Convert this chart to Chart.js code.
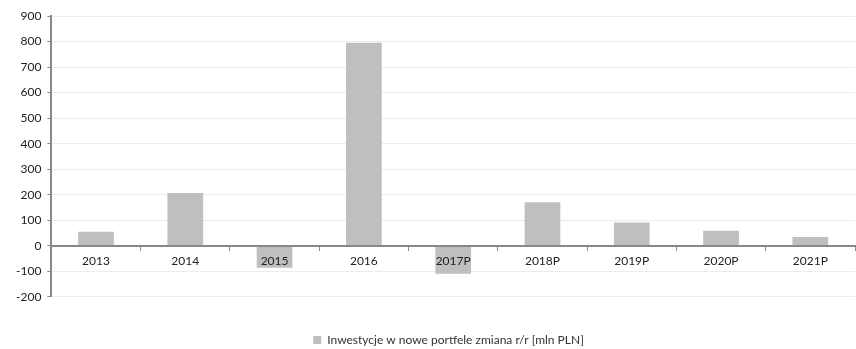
<!DOCTYPE html>
<html>
<head>
<meta charset="utf-8">
<script src="https://cdn.jsdelivr.net/npm/chart.js@4/dist/chart.umd.min.js"></script>
<style>
  html, body { margin: 0; padding: 0; background: #fff; }
  #wrap { width: 856px; height: 349px; }
</style>
</head>
<body>
<div id="wrap"><canvas id="chart"></canvas></div>
<script>
// Dane wykresu
const lata = ['2013', '2014', '2015', '2016', '2017P', '2018P', '2019P', '2020P', '2021P'];
const inwestycje = [55, 207, -86, 795, -110, 170, 91, 59, 34];
const nazwaSerii = 'Inwestycje w nowe portfele zmiana r/r [mln PLN]';
const osY = { min: -200, max: 900, krok: 100 };

const czcionka = "Lato, 'Open Sans', sans-serif";

// przesuniecie legendy troche w prawo, jak w oryginale
const przesunLegende = {
  id: 'przesunLegende',
  afterLayout(chart) {
    chart.legend.left += 16;
    chart.legend.right += 16;
  }
};

new Chart(document.getElementById('chart'), {
  type: 'bar',
  data: {
    labels: lata,
    datasets: [{
      label: nazwaSerii,
      data: inwestycje,
      backgroundColor: '#bfbfbf',
      borderWidth: 0,
      barPercentage: 0.8,
      categoryPercentage: 0.5
    }]
  },
  options: {
    responsive: true,
    maintainAspectRatio: false,
    animation: false,
    layout: { padding: { top: 16, right: 1, left: 10, bottom: -7 } },
    scales: {
      x: {
        position: { y: 0 },
        grid: {
          drawOnChartArea: false,
          drawTicks: true,
          tickLength: 4,
          offset: true,
          color: '#888',
          z: 1
        },
        border: { color: '#888', width: 2, z: 1 },
        ticks: {
          color: '#222',
          font: { family: czcionka, size: 12 },
          padding: 4,
          maxRotation: 0,
          z: 1
        }
      },
      y: {
        min: osY.min,
        max: osY.max,
        ticks: {
          stepSize: osY.krok,
          color: '#222',
          font: { family: czcionka, size: 12 },
          padding: 6
        },
        grid: {
          color: '#ececec',
          tickLength: 4,
          tickColor: '#888',
          drawTicks: true
        },
        border: { color: '#888', width: 2 }
      }
    },
    plugins: {
      legend: {
        position: 'bottom',
        title: { display: true, text: '', font: { size: 1 }, padding: { top: 32, bottom: 0 } },
        labels: {
          boxWidth: 8,
          boxHeight: 8,
          color: '#333',
          font: { family: czcionka, size: 12 },
          padding: 4
        }
      },
      tooltip: { enabled: false }
    }
  },
  plugins: [przesunLegende]
});
</script>
</body>
</html>
